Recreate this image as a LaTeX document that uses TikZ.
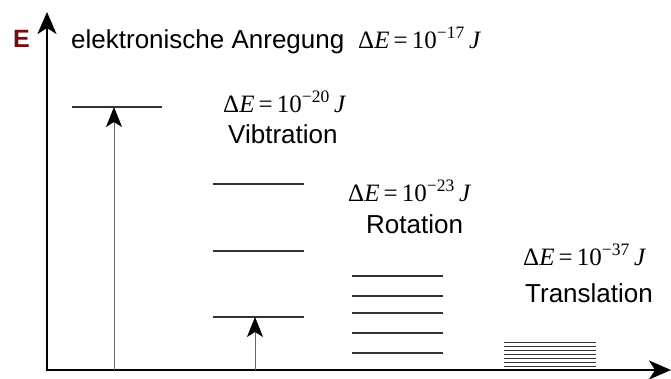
\documentclass[tikz,border=0pt]{standalone}
\usepackage{fontspec}
\setmainfont{Liberation Sans}
\newfontfamily\tnr{Liberation Serif}
\usetikzlibrary{arrows.meta}
\definecolor{ered}{HTML}{7A0A0A}
\newcommand\energy[1]{{\tnr\fontsize{25}{25}\selectfont Δ\textit{E}\,=\,10\textsuperscript{−#1}\,\textit{J}}}
\tikzset{
  axis/.style={line width=2.6pt,-{Stealth[length=22pt,width=19pt,inset=6pt]}},
  level/.style={line width=1.2pt,black!80},
  jump/.style={line width=1pt,black!60,-{Stealth[length=20pt,width=16pt,inset=5pt,black]}},
  txt/.style={anchor=base west,inner sep=0pt,font=\fontsize{26}{26}\selectfont}
}
\begin{document}
\begin{tikzpicture}[x=1pt,y=-1pt,line join=round]
  \useasboundingbox (0,0) rectangle (671,378);
  % axes
  \coordinate (O) at (47,370);
  \coordinate (Ox) at (45.7,370);
  \coordinate (ytop) at (47,12);
  \coordinate (xend) at (671,370);
  \draw[axis] (O)--(ytop);
  \draw[axis] (Ox)--(xend);
  \node[txt,font=\bfseries\fontsize{25}{25}\selectfont,text=ered] (E) at (13,47) {E};
  % electronic
  \node[txt] (el) at (71,48) {elektronische Anregung};
  \node[txt] (elE) at (358,48) {\energy{17}};
  \draw[level] (72,107)--(162,107);
  \coordinate (el0) at (114,370);
  \coordinate (el1) at (114,107);
  \draw[jump] (el0)--(el1);
  % vibration
  \node[txt] (vibE) at (223,112) {\energy{20}};
  \node[txt] (vib) at (228,143) {Vibtration};
  \foreach \y in {184,251,317} \draw[level] (213,\y)--(304,\y);
  \coordinate (vib0) at (255,370);
  \coordinate (vib1) at (255,317);
  \draw[jump] (vib0)--(vib1);
  % rotation
  \node[txt] (rotE) at (348,201) {\energy{23}};
  \node[txt] (rot) at (366,233) {Rotation};
  \foreach \y in {276,296,313,333,353} \draw[level] (352,\y)--(443,\y);
  % translation
  \node[txt] (traE) at (523,265) {\energy{37}};
  \node[txt] (tra) at (525,302) {Translation};
  \foreach \y in {342,346,...,366} \draw[level,line width=0.9pt] (504,\y)--(596,\y);
\end{tikzpicture}
\end{document}
